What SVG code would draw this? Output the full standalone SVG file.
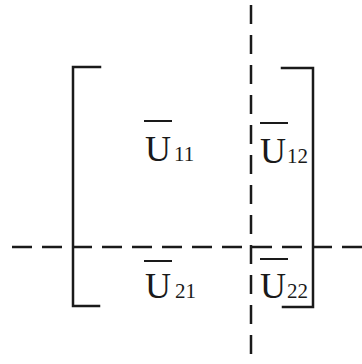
<svg xmlns="http://www.w3.org/2000/svg" width="362" height="364" viewBox="0 0 362 364">
<style>
.br{fill:none;stroke:#1a1a1a;stroke-width:2.5;stroke-linecap:square}
.dash{fill:none;stroke:#1a1a1a;stroke-width:2.5}
.ov{stroke:#1a1a1a;stroke-width:2}
.u{font-family:"Liberation Serif","Times New Roman",serif;font-size:36px;fill:#1a1a1a}
.s{font-family:"Liberation Serif","Times New Roman",serif;font-size:21px;fill:#1a1a1a}
</style>
<rect width="362" height="364" fill="#ffffff"/>
<g id="connectors">
<line class="dash" x1="12" y1="247" x2="362" y2="247" stroke-dasharray="20 10"/>
<line class="dash" x1="251" y1="5" x2="251" y2="364" stroke-dasharray="19 11"/>
</g>
<g id="bracket-left"><path class="br" d="M100,67 H73 V306 H99"/></g>
<g id="bracket-right"><path class="br" d="M282,68 H313 V307 H283"/></g>
<g id="u11">
<line class="ov" x1="144" y1="121" x2="172" y2="121"/>
<text class="u" x="145" y="161">U</text><text class="s" x="174" y="161">11</text>
</g>
<g id="u12">
<line class="ov" x1="260" y1="123" x2="288" y2="123"/>
<text class="u" x="260" y="163">U</text><text class="s" x="287" y="163">12</text>
</g>
<g id="u21">
<line class="ov" x1="144" y1="261" x2="172" y2="261"/>
<text class="u" x="145" y="298">U</text><text class="s" x="175" y="298">21</text>
</g>
<g id="u22">
<line class="ov" x1="260" y1="259" x2="288" y2="259"/>
<text class="u" x="260" y="298">U</text><text class="s" x="287" y="298">22</text>
</g>
</svg>
